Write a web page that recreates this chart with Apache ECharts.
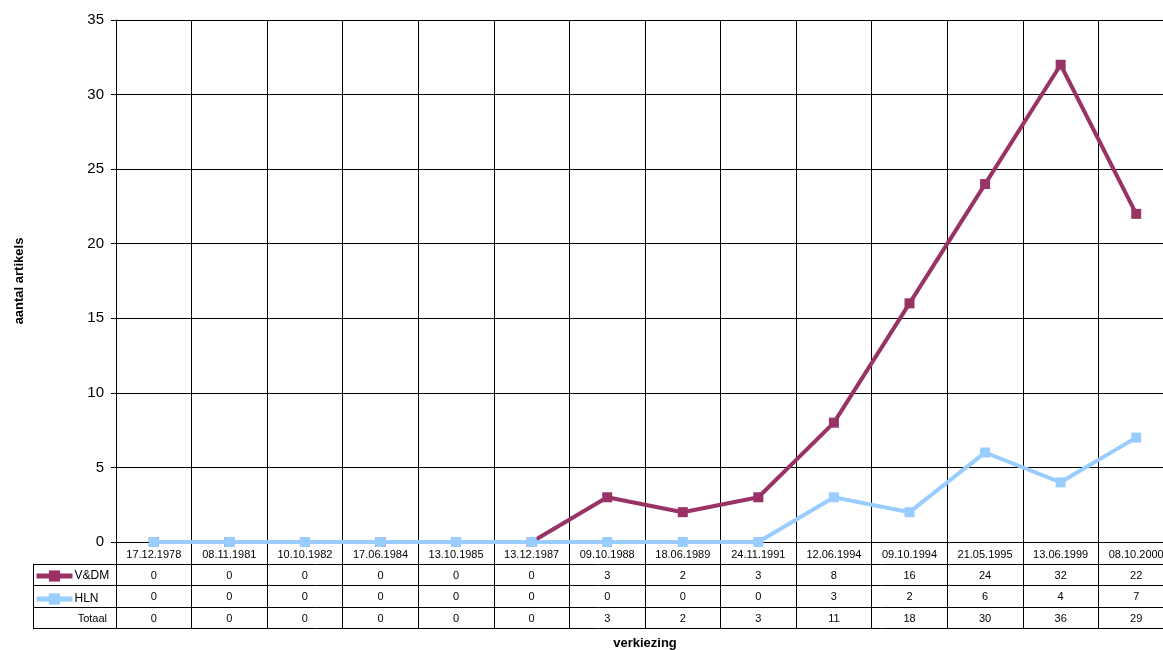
<!DOCTYPE html>
<html><head><meta charset="utf-8">
<script src="https://cdn.jsdelivr.net/npm/echarts@6/dist/echarts.min.js"></script>
<style>html,body{margin:0;padding:0;background:#fff}#c{width:1163px;height:650px}</style>
</head><body><div id="c"></div>
<script>
const categories = ['17.12.1978','08.11.1981','10.10.1982','17.06.1984','13.10.1985','13.12.1987','09.10.1988','18.06.1989','24.11.1991','12.06.1994','09.10.1994','21.05.1995','13.06.1999','08.10.2000'];
const vdm = [0,0,0,0,0,0,3,2,3,8,16,24,32,22];
const hln = [0,0,0,0,0,0,0,0,0,3,2,6,4,7];
const totaal = [0,0,0,0,0,0,3,2,3,11,18,30,36,29];
const yTicks = [0,5,10,15,20,25,30,35];

const FONT = 'Liberation Sans, Arial, sans-serif';
const C_VDM = '#993366', C_HLN = '#99CCFF';
const gL = 116, gT = 20, gW = 1058, gH = 522;
const rowOff = [22, 43, 65];
const tableBottom = gT + gH + 86;

function rowAxis(vals, off) {
  return {
    type: 'category', gridIndex: 0, position: 'bottom', offset: off,
    data: vals.map(String), boundaryGap: true,
    axisLine: {show: false}, axisTick: {show: false}, splitLine: {show: false},
    axisLabel: {interval: 0, margin: 6, fontSize: 11, color: '#000', fontFamily: FONT}
  };
}

const chart = echarts.init(document.getElementById('c'), null, {renderer: 'canvas'});
const lines = [];
[gT + gH + rowOff[0], gT + gH + rowOff[1], gT + gH + rowOff[2], tableBottom].forEach(y => {
  lines.push({type: 'line', shape: {x1: 33, y1: y + 0.5, x2: gL + gW, y2: y + 0.5}, style: {stroke: '#000', lineWidth: 1}, z: 10});
});
lines.push({type: 'line', shape: {x1: 33.5, y1: gT + gH + rowOff[0], x2: 33.5, y2: tableBottom}, style: {stroke: '#000', lineWidth: 1}, z: 10});
lines.push({type: 'text', style: {text: 'Totaal', x: 107, y: gT + gH + (rowOff[2] + 86) / 2 + 1, align: 'right', verticalAlign: 'middle', fontSize: 11, fill: '#000', fontFamily: FONT}, z: 10});

chart.setOption({
  animation: false,
  backgroundColor: '#fff',
  textStyle: {fontFamily: FONT},
  grid: {left: gL, top: gT, width: gW, height: gH, containLabel: false, outerBoundsMode: 'none'},
  legend: {
    orient: 'vertical', left: 29, top: gT + gH + rowOff[0] + 1, itemWidth: 36, itemHeight: 14, itemGap: 11,
    lineStyle: {width: 5},
    textStyle: {fontSize: 12, color: '#000', fontFamily: FONT, padding: [0,0,0,-3]},
    data: ['V&DM', 'HLN']
  },
  xAxis: [
    {
      type: 'category', data: categories, boundaryGap: true,
      name: 'verkiezing', nameLocation: 'middle', nameGap: 95,
      nameTextStyle: {fontSize: 13, fontWeight: 'bold', color: '#000', fontFamily: FONT},
      axisLine: {show: true, lineStyle: {color: '#000', width: 1}},
      axisTick: {show: true, inside: false, length: 86, lineStyle: {color: '#000'}},
      axisLabel: {interval: 0, margin: 7, fontSize: 11, color: '#000', fontFamily: FONT},
      splitLine: {show: true, interval: 0, lineStyle: {color: '#000', width: 1}}
    },
    rowAxis(vdm, rowOff[0]),
    rowAxis(hln, rowOff[1]),
    rowAxis(totaal, rowOff[2])
  ],
  yAxis: {
    type: 'value', min: 0, max: 35, interval: 5,
    name: 'aantal artikels', nameLocation: 'middle', nameGap: 90, nameRotate: 90,
    nameTextStyle: {fontSize: 13, fontWeight: 'bold', color: '#000', fontFamily: FONT},
    axisLine: {show: true, lineStyle: {color: '#000'}},
    axisTick: {show: true, length: 5, lineStyle: {color: '#000'}},
    axisLabel: {fontSize: 15, color: '#000', margin: 12, fontFamily: FONT},
    splitLine: {show: true, lineStyle: {color: '#000', width: 1}}
  },
  series: [
    {name: 'V&DM', type: 'line', data: vdm, xAxisIndex: 0, symbol: 'rect', symbolSize: 10,
     lineStyle: {color: C_VDM, width: 4}, itemStyle: {color: C_VDM}, z: 3},
    {name: 'HLN', type: 'line', data: hln, xAxisIndex: 0, symbol: 'rect', symbolSize: 10,
     lineStyle: {color: C_HLN, width: 4}, itemStyle: {color: C_HLN}, z: 4}
  ],
  graphic: lines
});
</script>
</body></html>
